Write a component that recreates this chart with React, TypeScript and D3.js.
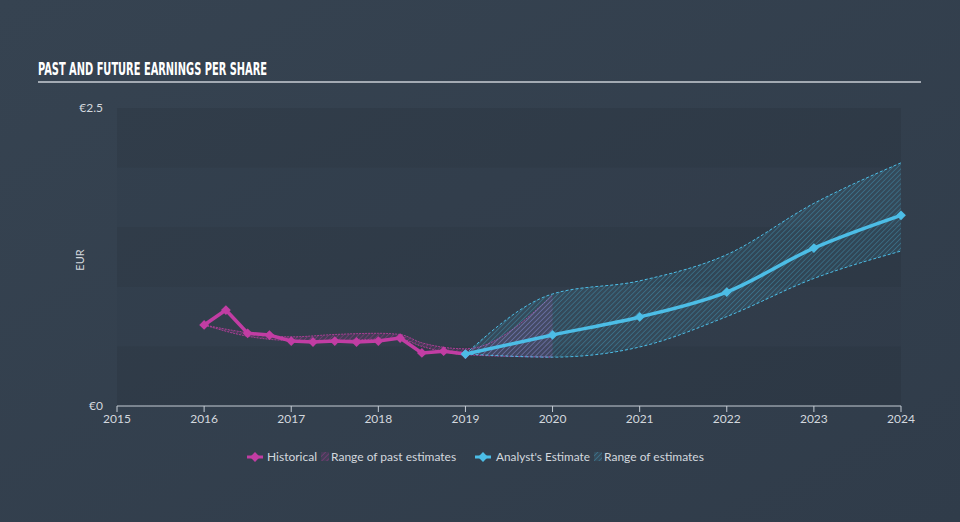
import * as d3 from "d3";

const W = 960;
const H = 522;
const M = { top: 108, right: 58, bottom: 116, left: 117 };

// historical EPS (year fraction, EUR)
const histYears = [2016, 2016.25, 2016.5, 2016.75, 2017, 2017.25, 2017.5, 2017.75, 2018, 2018.25, 2018.5, 2018.75, 2019];
const histValues = [0.68, 0.805, 0.61, 0.595, 0.545, 0.537, 0.545, 0.537, 0.545, 0.57, 0.445, 0.46, 0.436];

// range of past estimates
const pastYears = [2016, 2016.5, 2017, 2017.5, 2018, 2018.25, 2018.5, 2019, 2020];
const pastLow = [0.68, 0.585, 0.55, 0.55, 0.56, 0.56, 0.5, 0.43, 0.41];
const pastHigh = [0.68, 0.615, 0.58, 0.6, 0.61, 0.6, 0.53, 0.48, 0.93];

// analyst estimates
const estYears = [2019, 2020, 2021, 2022, 2023, 2024];
const estValues = [0.436, 0.596, 0.747, 0.956, 1.325, 1.6];
const estLow = [0.436, 0.41, 0.495, 0.75, 1.07, 1.3];
const estHigh = [0.436, 0.94, 1.05, 1.27, 1.7, 2.04];

const xTicks = [2015, 2016, 2017, 2018, 2019, 2020, 2021, 2022, 2023, 2024];
const bandStops = [0, 0.5, 1, 1.5, 2, 2.5];

const PINK = "#c13da3";
const CYAN = "#4cbde6";
const TEXT = "#d3d8de";
const FONT = "Lato, 'Open Sans', sans-serif";

type P = { x: number; y: number };
type R = { x: number; lo: number; hi: number };

export default function App() {
  const x = d3.scaleLinear().domain([2015, 2024]).range([M.left, W - M.right - 1]);
  const y = d3.scaleLinear().domain([0, 2.5]).range([H - M.bottom, M.top]);

  const hist: P[] = histYears.map((t, i) => ({ x: t, y: histValues[i] }));
  const est: P[] = estYears.map((t, i) => ({ x: t, y: estValues[i] }));
  const past: R[] = pastYears.map((t, i) => ({ x: t, lo: pastLow[i], hi: pastHigh[i] }));
  const fut: R[] = estYears.map((t, i) => ({ x: t, lo: estLow[i], hi: estHigh[i] }));

  const lineStraight = d3.line<P>().x((d) => x(d.x)).y((d) => y(d.y));
  const lineSmooth = d3.line<P>().x((d) => x(d.x)).y((d) => y(d.y)).curve(d3.curveMonotoneX);
  const area = d3
    .area<R>()
    .x((d) => x(d.x))
    .y0((d) => y(d.lo))
    .y1((d) => y(d.hi))
    .curve(d3.curveMonotoneX);
  const edge = (key: "lo" | "hi") =>
    d3.line<R>().x((d) => x(d.x)).y((d) => y(d[key])).curve(d3.curveMonotoneX);

  const diamond = d3.symbol().type(d3.symbolSquare).size(48)() ?? "";

  const y0 = y(0);

  return (
    <div style={{ position: "fixed", inset: 0 }}>
      <svg width={W} height={H} style={{ display: "block" }}>
        <defs>
          <linearGradient id="bg" x1="0" y1="0" x2="1" y2="1">
            <stop offset="0" stopColor="#364351" />
            <stop offset="1" stopColor="#303c4a" />
          </linearGradient>
          <pattern id="hatchCyan" width="3.5" height="3.5" patternUnits="userSpaceOnUse" patternTransform="rotate(45)">
            <rect width="3.5" height="3.5" fill={CYAN} fillOpacity={0.1} />
            <line x1="0" y1="0" x2="0" y2="3.5" stroke={CYAN} strokeWidth={1.1} strokeOpacity={0.5} />
          </pattern>
          <pattern id="hatchPink" width="3.5" height="3.5" patternUnits="userSpaceOnUse" patternTransform="rotate(45)">
            <rect width="3.5" height="3.5" fill={PINK} fillOpacity={0.12} />
            <line x1="0" y1="0" x2="0" y2="3.5" stroke={PINK} strokeWidth={1.1} strokeOpacity={0.6} />
          </pattern>
        </defs>
        <rect width={W} height={H} fill="url(#bg)" />

        <text x={38} y={75} fill="#ffffff" fontFamily="'Liberation Sans Narrow', 'DejaVu Sans Condensed', sans-serif" fontWeight={700} fontSize={18} textLength={229} lengthAdjust="spacingAndGlyphs">
          PAST AND FUTURE EARNINGS PER SHARE
        </text>
        <line x1={38} x2={921} y1={82} y2={82} stroke="#c9ced4" strokeWidth={1.5} />

        {bandStops.slice(0, -1).map((v, i) => (
          <rect
            key={v}
            x={M.left}
            width={x(2024) - M.left}
            y={y(bandStops[i + 1])}
            height={y(v) - y(bandStops[i + 1])}
            fill="#000000"
            fillOpacity={i % 2 === 0 ? 0.07 : 0.02}
          />
        ))}

        <text x={103} y={y(2.5) + 4} textAnchor="end" fill={TEXT} fontFamily={FONT} fontSize={12}>€2.5</text>
        <text x={103} y={y0 + 4} textAnchor="end" fill={TEXT} fontFamily={FONT} fontSize={12}>€0</text>
        <text transform={`translate(84, ${(y(2.5) + y0) / 2 + 3}) rotate(-90)`} textAnchor="middle" fill={TEXT} fontFamily={FONT} fontSize={11}>
          EUR
        </text>

        {/* past estimate range */}
        <path d={area(past) ?? ""} fill="url(#hatchPink)" />
        <path d={edge("hi")(past) ?? ""} fill="none" stroke={PINK} strokeWidth={1} strokeDasharray="2 1" strokeOpacity={0.8} />
        <path d={edge("lo")(past) ?? ""} fill="none" stroke={PINK} strokeWidth={1} strokeDasharray="2 1" strokeOpacity={0.8} />

        {/* future estimate range */}
        <path d={area(fut) ?? ""} fill="url(#hatchCyan)" />
        <path d={edge("hi")(fut) ?? ""} fill="none" stroke={CYAN} strokeWidth={1} strokeDasharray="3 2" />
        <path d={edge("lo")(fut) ?? ""} fill="none" stroke={CYAN} strokeWidth={1} strokeDasharray="3 2" />

        <path d={lineStraight(hist) ?? ""} fill="none" stroke={PINK} strokeWidth={3.5} strokeLinejoin="round" />
        {hist.map((d) => (
          <path key={d.x} d={diamond} transform={`translate(${x(d.x)},${y(d.y)}) rotate(45)`} fill={PINK} />
        ))}

        <path d={lineSmooth(est) ?? ""} fill="none" stroke={CYAN} strokeWidth={3.5} strokeLinejoin="round" />
        {est.map((d) => (
          <path key={d.x} d={diamond} transform={`translate(${x(d.x)},${y(d.y)}) rotate(45)`} fill={CYAN} />
        ))}

        {/* x axis */}
        <line x1={x(2015)} x2={x(2024)} y1={y0} y2={y0} stroke="#c5ccd4" strokeWidth={1} />
        {xTicks.map((t) => (
          <g key={t}>
            <line x1={x(t)} x2={x(t)} y1={y0} y2={y0 + 6} stroke="#c5ccd4" />
            <text x={x(t)} y={y0 + 17} textAnchor="middle" fill={TEXT} fontFamily={FONT} fontSize={12}>
              {t}
            </text>
          </g>
        ))}

        {/* legend */}
        <g fontFamily={FONT} fontSize={12} fill={TEXT}>
          <line x1={247} x2={263} y1={457} y2={457} stroke={PINK} strokeWidth={3} />
          <path d={diamond} transform="translate(255,457) rotate(45)" fill={PINK} />
          <text x={267} y={461}>Historical</text>
          <rect x={321} y={452} width={8} height={9} fill="url(#hatchPink)" />
          <text x={331} y={461}>Range of past estimates</text>

          <line x1={475} x2={491} y1={457} y2={457} stroke={CYAN} strokeWidth={3} />
          <path d={diamond} transform="translate(483,457) rotate(45)" fill={CYAN} />
          <text x={496} y={461} textLength={94} lengthAdjust="spacingAndGlyphs">Analyst's Estimate</text>
          <rect x={594} y={452} width={8} height={9} fill="url(#hatchCyan)" />
          <text x={604} y={461}>Range of estimates</text>
        </g>
      </svg>
    </div>
  );
}
